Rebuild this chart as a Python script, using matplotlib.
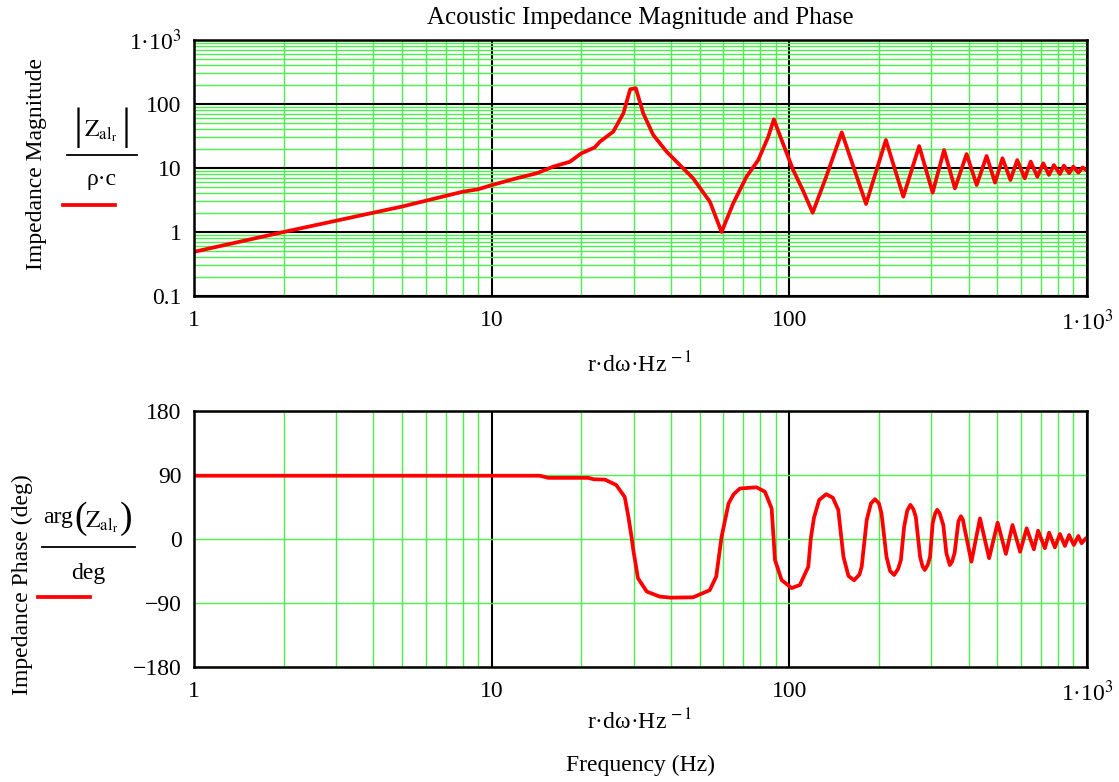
import numpy as np
import matplotlib
matplotlib.use("Agg")
import matplotlib.pyplot as plt
from matplotlib.lines import Line2D
from matplotlib.ticker import LogLocator, FixedLocator, NullFormatter

plt.rcParams['font.family'] = ['Liberation Serif', 'DejaVu Serif']
plt.rcParams['mathtext.fontset'] = 'stix'
plt.rcParams['font.size'] = 17

# magnitude |Z|/(rho c)
mag_freq = [1.0, 2.0, 5.0, 8.0, 9.0, 10.0, 12.1, 14.2, 16.1, 18.3, 20.0, 22.2,
            23.1, 25.6, 27.7, 29.2, 30.5, 32.3, 34.9, 38.7, 42.9, 47.5, 54.1,
            59.2, 64.8, 71.8, 78.6, 85.0, 88.7, 94.2, 103, 111, 119.8, 133,
            150, 181, 211, 241.5, 273, 303, 331, 360, 394, 426, 460, 491, 520,
            553, 583, 618, 647, 681, 713, 745, 774, 811, 836, 871, 899, 935,
            967, 1000]
mag_val = [0.49, 1.0, 2.5, 4.26, 4.65, 5.4, 6.9, 8.3, 10.5, 12.5, 16.9, 21,
           25.8, 36.9, 71.5, 170, 176, 71.5, 32.8, 18, 11.1, 6.9, 2.97,
           1.0, 2.81, 7.3, 13.3, 30.9, 57.6, 27.4, 9.3, 4.5, 2.0, 7.3,
           36, 2.74, 27.4, 3.56, 22, 4.12, 19.1, 4.8, 16.5, 5.42, 15.4, 5.9, 14.2,
           6.5, 13.3, 6.9, 12.6, 7.3, 11.8, 7.8, 11.1, 8.05, 10.9, 8.3, 10.5, 8.45,
           10.2, 9.1]

# phase in degrees
ph_freq = [1.0, 14.5, 15.5, 21.1, 22.0, 24.0, 26.2, 28.0, 28.8, 29.5, 29.9, 31.0,
           33.2, 36.7, 40.0, 47.5, 54.0, 56.8, 59.2, 62.5, 65.0, 68.2, 77.6,
           82.8, 87.2, 89.5, 94.2, 101.8, 108.5, 115.8, 118, 121, 126, 133, 140,
           146, 152, 158, 165, 172, 175, 182, 188, 194, 200, 204, 212, 218, 225,
           232, 237, 243, 249, 255, 261, 266, 275, 280, 285, 292, 297, 303, 309,
           314, 320, 329, 337, 346, 352, 359, 370, 377, 383, 387, 409, 437, 469,
           501, 534, 562, 596, 627, 663, 685, 722, 746, 780, 811, 843, 871, 903,
           935, 959, 991, 1000]
ph_val = [89, 89, 86, 86, 84, 83.5, 76, 59, 31, 3, -15, -55,
          -74, -81, -82.5, -82, -72, -53, 3, 50, 63, 71, 72.7,
          66.5, 43, -29.5, -57.7, -69, -64.7, -39, 0, 30, 55, 63, 58,
          41, -25, -52, -58, -50, -39, 27, 50, 56, 50, 36, -25, -45, -50.6,
          -42, -29.5, 17, 40, 48, 42, 31, -25, -38, -43.6, -36, -25, 22, 36,
          41, 36, 19.7, -20, -36.6, -32, -20, 25, 32, 27, 17, -32, 29, -27,
          23, -21, 19.7, -18, 15, -14.5, 11.7, -13, 8.9, -11.7, 7, -9.8, 5.6, -8.4,
          4.2, -6, 1, -1]

x_ticks = [1, 10, 100, 1000]
x_labels = ['1', '10', '100', '1·10$^{3}$']
mag_ticks = [0.1, 1, 10, 100, 1000]
mag_labels = ['0.1', '1', '10', '100', '1·10$^{3}$']
ph_ticks = [-180, -90, 0, 90, 180]
ph_labels = ['\u2212180', '\u221290', '0', '90', '180']

W, H = 1119, 782
green = '#4cf04c'
red = '#ff0000'

fig = plt.figure(figsize=(W / 100, H / 100), dpi=100)


def fx(x):
    return x / W


def fy(y):
    return 1 - y / H


ax1 = fig.add_axes([fx(194), fy(296), (1087 - 194) / W, (296 - 40) / H])
ax2 = fig.add_axes([fx(194), fy(667), (1087 - 194) / W, (667 - 411) / H])

# top: magnitude
ax1.set_xscale('log')
ax1.set_yscale('log')
ax1.set_axisbelow(True)
ax1.plot(mag_freq, mag_val, color=red, lw=2.7, solid_joinstyle='round')
ax1.set_xlim(1, 1000)
ax1.set_ylim(0.1, 1000)
ax1.xaxis.set_major_locator(FixedLocator(x_ticks))
ax1.set_xticklabels(x_labels)
ax1.yaxis.set_major_locator(FixedLocator(mag_ticks))
ax1.set_yticklabels(mag_labels)
for a in (ax1.xaxis, ax1.yaxis):
    a.set_minor_locator(LogLocator(base=10, subs=np.arange(2, 10), numticks=20))
    a.set_minor_formatter(NullFormatter())
ax1.grid(which='major', color='black', lw=1.5)
ax1.grid(which='minor', color=green, lw=1.0)

# bottom: phase
ax2.set_xscale('log')
ax2.set_axisbelow(True)
ax2.plot(ph_freq, ph_val, color=red, lw=2.7, solid_joinstyle='round')
ax2.set_xlim(1, 1000)
ax2.set_ylim(-180, 180)
ax2.xaxis.set_major_locator(FixedLocator(x_ticks))
ax2.set_xticklabels(x_labels)
ax2.set_yticks(ph_ticks)
ax2.set_yticklabels(ph_labels)
ax2.xaxis.set_minor_locator(LogLocator(base=10, subs=np.arange(2, 10), numticks=20))
ax2.xaxis.set_minor_formatter(NullFormatter())
ax2.xaxis.grid(which='major', color='black', lw=1.5)
ax2.xaxis.grid(which='minor', color=green, lw=1.0)
ax2.yaxis.grid(which='major', color=green, lw=1.0)

for ax in (ax1, ax2):
    for s in ax.spines.values():
        s.set_linewidth(1.8)
        s.set_color('black')
    ax.tick_params(which='both', length=0)
    ax.tick_params(axis='x', pad=10)
    ax.tick_params(axis='y', pad=9)

# titles and labels
fig.text(fx(640), fy(18), 'Acoustic Impedance Magnitude and Phase', ha='center', va='center', fontsize=18)
fig.text(fx(640), fy(365), 'r·dω·Hz$^{\\,-1}$', ha='center', va='center')
fig.text(fx(640), fy(722), 'r·dω·Hz$^{\\,-1}$', ha='center', va='center')
fig.text(fx(640), fy(765), 'Frequency (Hz)', ha='center', va='center')

zsub = r'$\mathrm{Z}_{\mathrm{al}_{\mathrm{r}}}$'

fig.text(fx(37), fy(164), 'Impedance Magnitude', rotation=90, ha='center', va='center')
fig.text(fx(78), fy(128), '|', ha='center', va='center', fontsize=32)
fig.text(fx(101), fy(131), zsub, ha='center', va='center')
fig.text(fx(126), fy(128), '|', ha='center', va='center', fontsize=32)
fig.add_artist(Line2D([fx(67), fx(137)], [fy(155), fy(155)], color='black', lw=1.3))
fig.text(fx(102), fy(180), 'ρ·c', ha='center', va='center')
fig.add_artist(Line2D([fx(63), fx(115)], [fy(205), fy(205)], color=red, lw=2.7))

fig.text(fx(22), fy(585), 'Impedance Phase (deg)', rotation=90, ha='center', va='center')
fig.text(fx(58), fy(517), 'arg', ha='center', va='center')
fig.text(fx(81), fy(519), '(', ha='center', va='center', fontsize=27)
fig.text(fx(102), fy(522), zsub, ha='center', va='center')
fig.text(fx(126), fy(519), ')', ha='center', va='center', fontsize=27)
fig.add_artist(Line2D([fx(42), fx(135)], [fy(547), fy(547)], color='black', lw=1.3))
fig.text(fx(88), fy(573), 'deg', ha='center', va='center')
fig.add_artist(Line2D([fx(38), fx(90)], [fy(597), fy(597)], color=red, lw=2.7))

fig.savefig('out.png', dpi=100)
